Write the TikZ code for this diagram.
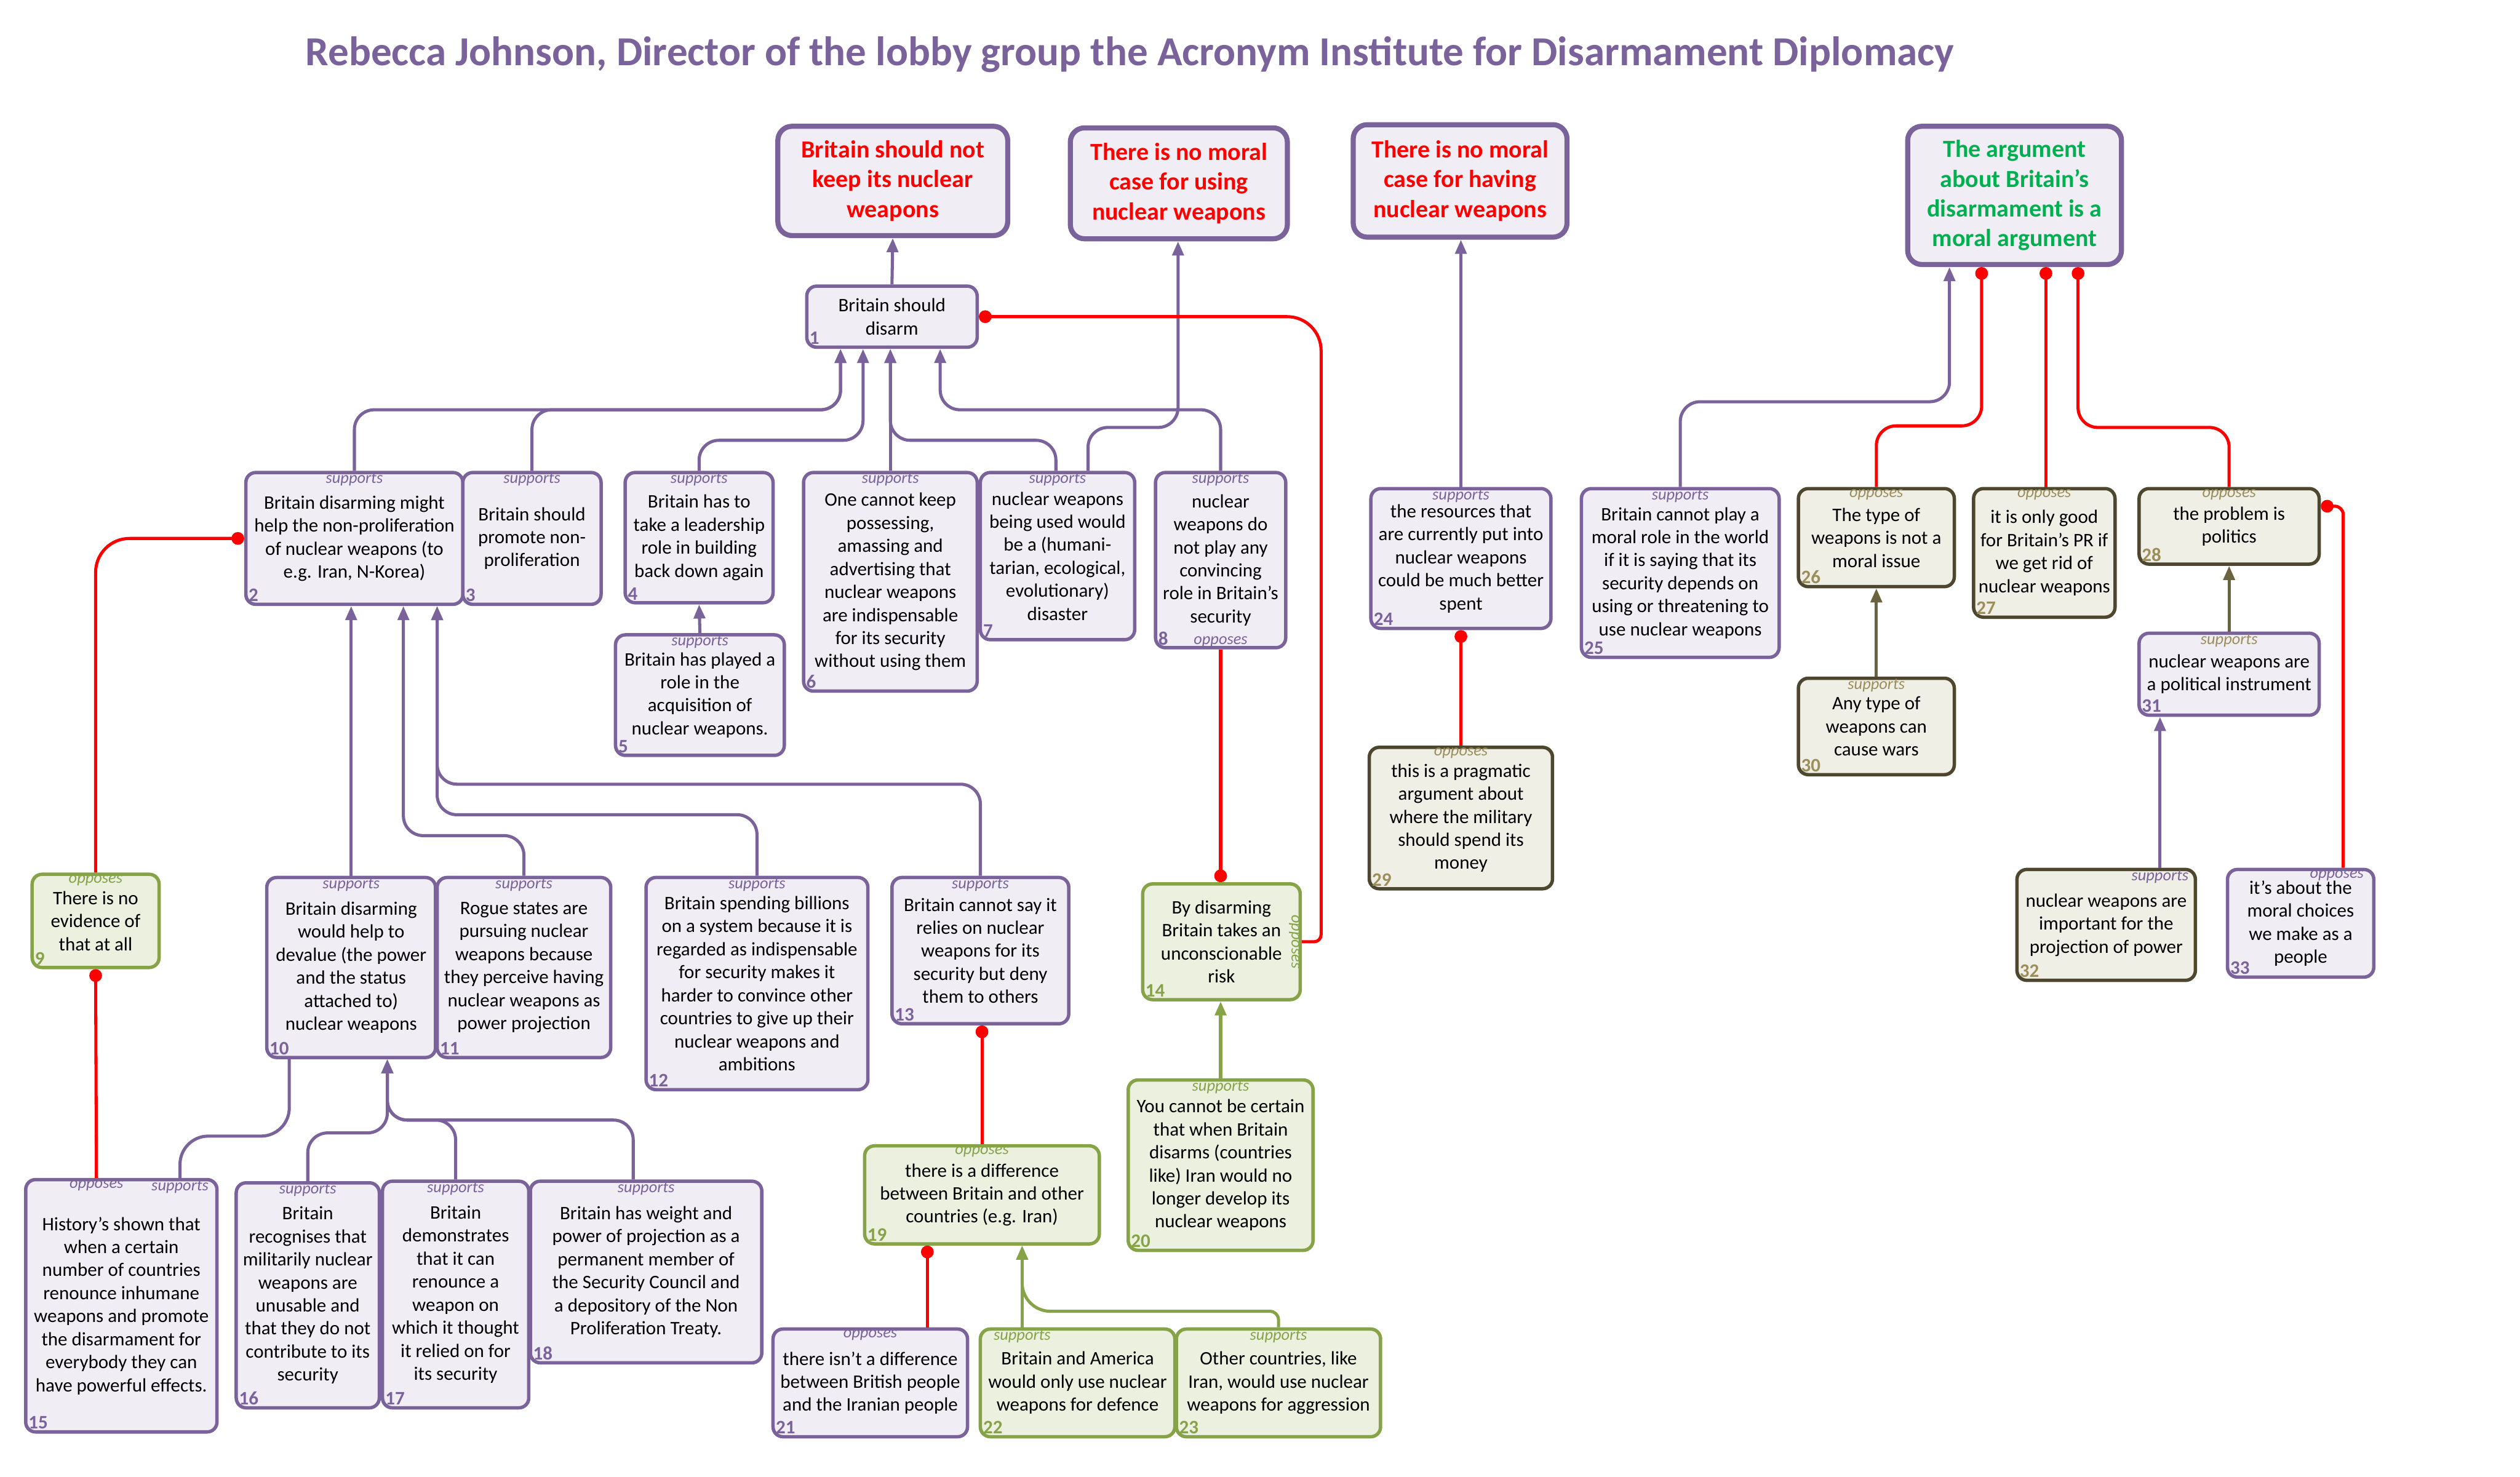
\documentclass[tikz,border=0pt]{standalone}
\usepackage{fontspec}
\setmainfont{Carlito}
\usepackage{tikz}
\usetikzlibrary{arrows.meta}

\definecolor{argpurple}{RGB}{122,98,154}
\definecolor{argpurplefill}{RGB}{240,238,244}
\definecolor{arggreen}{RGB}{134,163,72}
\definecolor{arggreenfill}{RGB}{235,240,223}
\definecolor{argolive}{RGB}{78,71,48}
\definecolor{argolivefill}{RGB}{239,239,230}
\definecolor{argkhaki}{RGB}{155,142,90}
\definecolor{argoliveline}{RGB}{107,98,64}
\definecolor{claimgreen}{RGB}{0,176,80}

\tikzset{
  box/.style={draw, rounded corners=7pt, line width=2.4pt, anchor=north, align=center, inner sep=1pt,
    font=\fontsize{13.5}{16.3}\selectfont},
  pbox/.style={box, draw=argpurple, fill=argpurplefill},
  gbox/.style={box, draw=arggreen, fill=arggreenfill},
  obox/.style={box, draw=argolive, fill=argolivefill},
  claim/.style={box, line width=3.6pt, rounded corners=10pt, draw=argpurple, fill=argpurplefill,
    text=red, font=\bfseries\fontsize{17.4}{21}\selectfont},
  wh/.style 2 args={minimum width=#1cm, minimum height=#2cm},
  lab/.style={draw=none, fill=none, inner sep=1.5pt, minimum width=0pt, minimum height=0pt,
    font=\itshape\fontsize{11.5}{12}\selectfont},
  toplab/.style 2 args={label={[lab, text=#1, anchor=north]north:#2}},
  toplabx/.style n args={3}{label={[lab, text=#1, anchor=north, xshift=#3]north:#2}},
  idlab/.style 2 args={label={[lab, inner sep=3pt, text=#1, anchor=south west,
    font=\bfseries\fontsize{13.5}{13.5}\selectfont]south west:#2}},
  link/.style={line width=2.2pt, rounded corners=14pt},
  sup/.style={link, draw=argpurple, -{Triangle[length=10pt, width=8pt]}},
  gsup/.style={link, draw=arggreen, -{Triangle[length=10pt, width=8pt]}},
  osup/.style={link, draw=argoliveline, -{Triangle[length=10pt, width=8pt]}},
  opp/.style={link, draw=red, -{Circle[length=9pt]}},
}

\begin{document}
\begin{tikzpicture}[x=0.04cm, y=-0.04cm]
  \useasboundingbox (0,0) rectangle (1568,919);

  \node[font=\bfseries\fontsize{29.2}{34}\selectfont, text=argpurple] (title) at (703,34)
    {Rebecca Johnson, Director of the lobby group the Acronym Institute for Disarmament Diplomacy};

  \node[claim, wh={5.72}{2.72}] (t1) at (555.5,77) {Britain should not\\keep its nuclear\\weapons};
  \node[claim, wh={5.40}{2.76}] (t2) at (733.5,78) {There is no moral\\case for using\\nuclear weapons};
  \node[claim, wh={5.32}{2.80}] (t3) at (908.5,76) {There is no moral\\case for having\\nuclear weapons};
  \node[claim, text=claimgreen, wh={5.32}{3.44}] (t4) at (1253.5,77) {The argument\\about Britain’s\\disarmament is a\\moral argument};

  \node[pbox, wh={4.24}{1.52}, idlab={argpurple}{1}] (b1) at (555,177) {Britain should\\disarm};

  \node[pbox, wh={5.40}{3.28}, toplab={argpurple}{supports}, idlab={argpurple}{2}] (b2) at (220.5,293)
    {Britain disarming might\\help the non-proliferation\\of nuclear weapons (to\\e.g. Iran, N-Korea)};
  \node[pbox, wh={3.44}{3.28}, toplab={argpurple}{supports}, idlab={argpurple}{3}] (b3) at (331,293)
    {Britain should\\promote non-\\proliferation};
  \node[pbox, wh={3.68}{3.24}, toplab={argpurple}{supports}, idlab={argpurple}{4}] (b4) at (435,293)
    {Britain has to\\take a leadership\\role in building\\back down again};
  \node[pbox, wh={4.20}{3.00}, toplab={argpurple}{supports}, idlab={argpurple}{5}] (b5) at (435.5,394)
    {Britain has played a\\role in the\\acquisition of\\nuclear weapons.};
  \node[pbox, wh={4.32}{5.44}, toplab={argpurple}{supports}, idlab={argpurple}{6}] (b6) at (554,293)
    {One cannot keep\\possessing,\\amassing and\\advertising that\\nuclear weapons\\are indispensable\\for its security\\without using them};
  \node[pbox, wh={3.84}{4.16}, toplab={argpurple}{supports}, idlab={argpurple}{7}] (b7) at (658,293)
    {nuclear weapons\\being used would\\be a (humani-\\tarian, ecological,\\evolutionary)\\disaster};
  \node[pbox, wh={3.24}{4.36}, toplab={argpurple}{supports}, idlab={argpurple}{8},
    label={[lab, text=argpurple, anchor=south]south:opposes}] (b8) at (759.5,293)
    {nuclear\\weapons do\\not play any\\convincing\\role in Britain's\\security};

  \node[gbox, wh={3.16}{2.32}, toplab={arggreen}{opposes}, idlab={arggreen}{9}] (b9) at (59.5,543)
    {There is no\\evidence of\\that at all};
  \node[pbox, wh={4.20}{4.48}, toplab={argpurple}{supports}, idlab={argpurple}{10}] (b10) at (218.5,545)
    {Britain disarming\\would help to\\devalue (the power\\and the status\\attached to)\\nuclear weapons};
  \node[pbox, wh={4.32}{4.48}, toplab={argpurple}{supports}, idlab={argpurple}{11}] (b11) at (326,545)
    {Rogue states are\\pursuing nuclear\\weapons because\\they perceive having\\nuclear weapons as\\power projection};
  \node[pbox, wh={5.52}{5.28}, toplab={argpurple}{supports}, idlab={argpurple}{12}] (b12) at (471,545)
    {Britain spending billions\\on a system because it is\\regarded as indispensable\\for security makes it\\harder to convince other\\countries to give up their\\nuclear weapons and\\ambitions};
  \node[pbox, wh={4.40}{3.64}, toplab={argpurple}{supports}, idlab={argpurple}{13}] (b13) at (610,545)
    {Britain cannot say it\\relies on nuclear\\weapons for its\\security but deny\\them to others};
  \node[gbox, wh={3.92}{2.88}, idlab={arggreen}{14},
    label={[lab, text=arggreen, rotate=-90, anchor=north]east:opposes}] (b14) at (760,549)
    {By disarming\\Britain takes an\\unconscionable\\risk};
  \node[gbox, wh={4.60}{4.24}, toplab={arggreen}{supports}, idlab={arggreen}{20}] (b20) at (759.5,671)
    {You cannot be certain\\that when Britain\\disarms (countries\\like) Iran would no\\longer develop its\\nuclear weapons};
  \node[gbox, wh={5.84}{2.44}, toplab={arggreen}{opposes}, idlab={arggreen}{19}] (b19) at (611,712)
    {there is a difference\\between Britain and other\\countries (e.g. Iran)};

  \node[pbox, wh={4.76}{6.28}, toplabx={argpurple}{opposes}{-0.62cm}, toplabx={argpurple}{supports}{1.46cm},
    idlab={argpurple}{15}] (b15) at (75.5,733)
    {History’s shown that\\when a certain\\number of countries\\renounce inhumane\\weapons and promote\\the disarmament for\\everybody they can\\have powerful effects.};
  \node[pbox, wh={3.56}{5.60}, toplab={argpurple}{supports}, idlab={argpurple}{16}] (b16) at (191.5,735)
    {Britain\\recognises that\\militarily nuclear\\weapons are\\unusable and\\that they do not\\contribute to its\\security};
  \node[pbox, wh={3.64}{5.64}, toplab={argpurple}{supports}, idlab={argpurple}{17}] (b17) at (283.5,734)
    {Britain\\demonstrates\\that it can\\renounce a\\weapon on\\which it thought\\it relied on for\\its security};
  \node[pbox, wh={5.76}{4.52}, toplab={argpurple}{supports}, idlab={argpurple}{18}] (b18) at (402,734)
    {Britain has weight and\\power of projection as a\\permanent member of\\the Security Council and\\a depository of the Non\\Proliferation Treaty.};
  \node[pbox, wh={4.84}{2.68}, toplab={argpurple}{opposes}, idlab={argpurple}{21}] (b21) at (541.5,826)
    {there isn’t a difference\\between British people\\and the Iranian people};
  \node[gbox, wh={4.84}{2.68}, toplabx={arggreen}{supports}{-1.38cm}, idlab={arggreen}{22}] (b22) at (670.5,826)
    {Britain and America\\would only use nuclear\\weapons for defence};
  \node[gbox, wh={5.08}{2.68}, toplab={arggreen}{supports}, idlab={arggreen}{23}] (b23) at (795.5,826)
    {Other countries, like\\Iran, would use nuclear\\weapons for aggression};

  \node[pbox, wh={4.48}{3.48}, toplab={argpurple}{supports}, idlab={argpurple}{24}] (b24) at (909,303)
    {the resources that\\are currently put into\\nuclear weapons\\could be much better\\spent};
  \node[pbox, wh={4.92}{4.20}, toplab={argpurple}{supports}, idlab={argpurple}{25}] (b25) at (1045.5,303)
    {Britain cannot play a\\moral role in the world\\if it is saying that its\\security depends on\\using or threatening to\\use nuclear weapons};
  \node[obox, wh={3.88}{2.44}, toplab={argkhaki}{opposes}, idlab={argkhaki}{26}] (b26) at (1167.5,303)
    {The type of\\weapons is not a\\moral issue};
  \node[obox, wh={3.52}{3.20}, toplab={argkhaki}{opposes}, idlab={argkhaki}{27}] (b27) at (1272,303)
    {it is only good\\for Britain's PR if\\we get rid of\\nuclear weapons};
  \node[obox, wh={4.48}{1.88}, toplab={argkhaki}{opposes}, idlab={argkhaki}{28}] (b28) at (1387,303)
    {the problem is\\politics};
  \node[obox, wh={4.56}{3.52}, toplab={argkhaki}{opposes}, idlab={argkhaki}{29}] (b29) at (909,464)
    {this is a pragmatic\\argument about\\where the military\\should spend its\\money};
  \node[obox, wh={3.88}{2.40}, toplab={argkhaki}{supports}, idlab={argkhaki}{30}] (b30) at (1167.5,421)
    {Any type of\\weapons can\\cause wars};
  \node[pbox, wh={4.48}{2.04}, toplab={argkhaki}{supports}, idlab={argpurple}{31}] (b31) at (1387,393)
    {nuclear weapons are\\a political instrument};
  \node[obox, wh={4.44}{2.76}, toplabx={argpurple}{supports}{1.34cm}, idlab={argkhaki}{32}] (b32) at (1310.5,540)
    {nuclear weapons are\\important for the\\projection of power};
  \node[pbox, wh={3.64}{2.68}, toplabx={argpurple}{opposes}{0.9cm}, idlab={argpurple}{33}] (b33) at (1431.5,540)
    {it’s about the\\moral choices\\we make as a\\people};

  \draw[sup] (b1.north) -- (t1.south);
  \draw[sup] (b2.north) |- (523,255) -- (b1.south -| 523,0);
  \draw[sup] (b3.north) |- (523,255) -- (b1.south -| 523,0);
  \draw[sup] (b4.north) |- (537,274) -- (b1.south -| 537,0);
  \draw[sup] (b6.north) -- (b6.north |- b1.south);
  \draw[sup] (b7.north -| 657,0) |- (554,274) -- (b1.south -| 554,0);
  \draw[sup] (b7.north -| 677,0) |- (733,266) -- (t2.south -| 733,0);
  \draw[sup] (b8.north) |- (585,255) -- (b1.south -| 585,0);
  \draw[sup] (b5.north) -- (b4.south);
  \draw[sup] (b10.north) -- (b10.north |- b2.south);
  \draw[sup] (b11.north) |- (251,520) -- (b2.south -| 251,0);
  \draw[sup] (b12.north) |- (272,507) -- (b2.south -| 272,0);
  \draw[sup] (b13.north) |- (272,488) -- (b2.south -| 272,0);
  \draw[opp, rounded corners=24pt] (b9.north) |- (b2.west);
  \draw[opp] (b15.north -| 60,0) -- (b9.south);
  \draw[link, draw=argpurple, rounded corners=20pt] (b15.north -| 112,0) |- (180,707) -- (b10.south -| 180,0);
  \draw[sup] (b16.north) |- (241,705) -- (b10.south -| 241,0);
  \draw[sup] (b17.north) |- (241,697) -- (b10.south -| 241,0);
  \draw[sup] (b18.north -| 394,0) |- (241,697) -- (b10.south -| 241,0);
  \draw[opp] (b19.north) -- (b19.north |- b13.south);
  \draw[opp] (b21.north -| 577,0) -- (b19.south -| 577,0);
  \draw[gsup] (b22.north -| 636,0) -- (b19.south -| 636,0);
  \draw[gsup, rounded corners=6pt] (b23.north) |- (700,816) [rounded corners=20pt] -| (b19.south -| 636,0);
  \draw[gsup] (b20.north) -- (b20.north |- b14.south);
  \draw[opp] (b8.south) -- (b8.south |- b14.north);
  \draw[opp, rounded corners=5pt] (b14.east) -| (822,400) [rounded corners=24pt] |- (b1.east);
  \draw[sup] (b24.north) -- (b24.north |- t3.south);
  \draw[opp] (b29.north) -- (b24.south);
  \draw[sup] (b25.north) |- (1213,250) -- (t4.south -| 1213,0);
  \draw[opp] (b26.north) |- (1233,265) -- (t4.south -| 1233,0);
  \draw[opp] (b27.north -| 1273,0) -- (t4.south -| 1273,0);
  \draw[opp] (b28.north) |- (1293,266) -- (t4.south -| 1293,0);
  \draw[osup] (b30.north) -- (b26.south);
  \draw[osup] (b31.north) -- (b28.south);
  \draw[sup] (b32.north -| 1344,0) -- (b31.south -| 1344,0);
  \draw[opp, rounded corners=6pt] (b33.north -| 1458,0) |- (b28.east |- 0,315);
\end{tikzpicture}
\end{document}
